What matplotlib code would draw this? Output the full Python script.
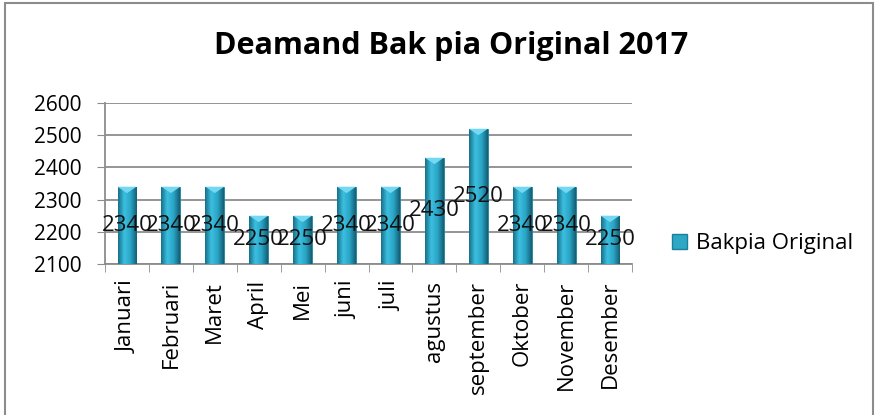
import numpy as np
import matplotlib.pyplot as plt
from matplotlib.patches import Rectangle
from matplotlib.colors import LinearSegmentedColormap

plt.rcParams['font.family'] = ['Open Sans', 'DejaVu Sans']

months = ["Januari", "Februari", "Maret", "April", "Mei", "juni", "juli",
          "agustus", "september", "Oktober", "November", "Desember"]
demand = [2340, 2340, 2340, 2250, 2250, 2340, 2340, 2430, 2520, 2340, 2340, 2250]
series_name = "Bakpia Original"
title = "Deamand Bak pia Original 2017"
y_ticks = [2100, 2200, 2300, 2400, 2500, 2600]

BASE = 2100
BAR_W = 0.43

fig = plt.figure(figsize=(8.75, 4.15), dpi=100)
ax = fig.add_axes([0.12, 0.3639, 0.6023, 0.3879])

# chart frame (the border of the embedded chart object)
fig.patches.append(Rectangle((5 / 875, -0.1), 868 / 875, 1.1 - 3 / 415,
                             transform=fig.transFigure, fill=False,
                             edgecolor="#8c8c8c", linewidth=1.5))

x = np.arange(len(months))
bars = ax.bar(x, np.array(demand) - BASE, bottom=BASE, width=BAR_W,
              color="#2ea6c6", edgecolor="#1d7f9a", linewidth=0.6, zorder=3)

# horizontal shading to fake the 3D cylinder look
shade = LinearSegmentedColormap.from_list("shade", ["#17718a", "#3cbfe0", "#2aa5c6", "#145f75"])
grad = np.linspace(0, 1, 64).reshape(1, -1)
for b, v in zip(bars, demand):
    x0, x1 = b.get_x(), b.get_x() + b.get_width()
    im = ax.imshow(grad, cmap=shade, aspect="auto", zorder=3.5,
                   extent=[x0, x1, BASE, v])
    im.set_clip_path(b)
    # light bevel at the top of each bar
    ax.fill([x0, x1, (x0 + x1) / 2], [v, v, v - 20], color="#74d8f2", lw=0, zorder=4)

for xi, v in zip(x, demand):
    ax.text(xi, (v + BASE) / 2, str(v), ha="center", va="center",
            fontsize=16, color="#111111", zorder=5)

ax.set_xlim(-0.5, len(months) - 0.5)
ax.set_ylim(2100, 2600)
ax.set_yticks(y_ticks)
ax.tick_params(axis="y", labelsize=15, length=6, color="#8c8c8c", pad=11)
ax.yaxis.grid(True, color="#8c8c8c", linewidth=1.3, zorder=0)
ax.set_axisbelow(True)

ax.set_xticks(x)
ax.set_xticklabels(months, rotation=90, fontsize=16)
ax.set_xticks(np.arange(-0.5, len(months)), minor=True)
ax.tick_params(axis="x", which="major", length=0, pad=12)
ax.tick_params(axis="x", which="minor", length=6, color="#8c8c8c")

for s in ["top", "right"]:
    ax.spines[s].set_visible(False)
for s in ["left", "bottom"]:
    ax.spines[s].set_color("#8c8c8c")
    ax.spines[s].set_linewidth(1.3)

fig.text(0.515, 0.89, title, ha="center", va="center", fontsize=22, fontweight="bold")

handle = Rectangle((0, 0), 1, 1, facecolor="#2ea6c6", edgecolor="#1d7f9a")
fig.legend([handle], [series_name], loc="center left", bbox_to_anchor=(0.745, 0.413),
           frameon=False, fontsize=16, handlelength=0.7, handleheight=0.7, handletextpad=0.4)

fig.savefig("out.png", dpi=100)
